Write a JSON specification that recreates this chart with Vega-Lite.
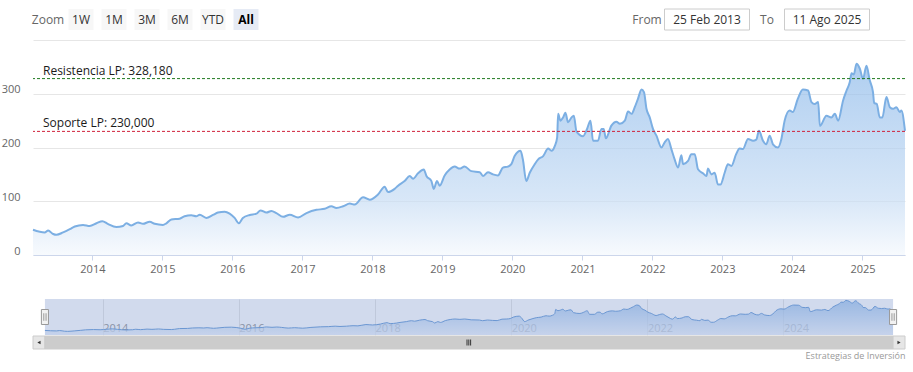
{
  "$schema": "https://vega.github.io/schema/vega-lite/v6.json",
  "background": "white",
  "padding": {"left": 1, "top": 8, "right": 0, "bottom": 0},
  "config": {
    "view": {"stroke": null},
    "font": "Open Sans",
    "axis": {"labelFont": "Open Sans"},
    "text": {"font": "Open Sans"},
    "title": {"font": "Open Sans"}
  },
  "datasets": {
    "prices": [
      {"date":"2013-02-25","value":47},{"date":"2013-04-27","value":42},{"date":"2013-05-15","value":45.6},{"date":"2013-06-10","value":39},{"date":"2013-06-27","value":37.5},{"date":"2013-08-01","value":42},{"date":"2013-09-05","value":48},{"date":"2013-10-01","value":53},{"date":"2013-11-13","value":56},{"date":"2013-12-18","value":54},
      {"date":"2014-01-22","value":59},{"date":"2014-02-22","value":63},{"date":"2014-03-22","value":58},{"date":"2014-05-06","value":52},{"date":"2014-06-10","value":54},{"date":"2014-06-27","value":59},{"date":"2014-07-23","value":55},{"date":"2014-08-27","value":60.6},{"date":"2014-09-22","value":58},{"date":"2014-10-27","value":62},{"date":"2014-11-22","value":58},
      {"date":"2015-01-04","value":56},{"date":"2015-01-22","value":59},{"date":"2015-02-17","value":66},{"date":"2015-04-01","value":67.5},{"date":"2015-04-27","value":72},{"date":"2015-06-01","value":74},{"date":"2015-06-27","value":72},{"date":"2015-07-15","value":75},{"date":"2015-08-18","value":69},{"date":"2015-09-22","value":74.5},{"date":"2015-10-18","value":79},{"date":"2015-11-22","value":80.6},{"date":"2015-12-18","value":77},
      {"date":"2016-01-13","value":69},{"date":"2016-02-04","value":59},{"date":"2016-02-25","value":69},{"date":"2016-04-01","value":74.5},{"date":"2016-05-06","value":77},{"date":"2016-05-27","value":83},{"date":"2016-06-27","value":79},{"date":"2016-07-23","value":82},{"date":"2016-08-18","value":78},{"date":"2016-09-22","value":71},{"date":"2016-10-27","value":75},{"date":"2016-12-09","value":70},
      {"date":"2017-01-22","value":78},{"date":"2017-03-15","value":84},{"date":"2017-04-27","value":86},{"date":"2017-06-01","value":90.6},{"date":"2017-06-27","value":87.6},{"date":"2017-08-01","value":90.6},{"date":"2017-09-05","value":95.6},{"date":"2017-10-01","value":93.8},{"date":"2017-11-13","value":107.5},{"date":"2017-12-18","value":103},
      {"date":"2018-01-30","value":112.5},{"date":"2018-03-06","value":127},{"date":"2018-03-23","value":117},{"date":"2018-04-27","value":123},{"date":"2018-05-15","value":129},{"date":"2018-06-18","value":137.5},{"date":"2018-07-15","value":147},{"date":"2018-08-01","value":142},{"date":"2018-08-27","value":152},{"date":"2018-09-26","value":159},{"date":"2018-10-10","value":147},{"date":"2018-11-05","value":137.5},{"date":"2018-11-17","value":123},{"date":"2018-12-04","value":137.5},{"date":"2018-12-18","value":129},
      {"date":"2019-01-13","value":148},{"date":"2019-02-08","value":159},{"date":"2019-03-06","value":164.5},{"date":"2019-04-01","value":160.7},{"date":"2019-04-27","value":164.5},{"date":"2019-06-01","value":156},{"date":"2019-07-15","value":154},{"date":"2019-08-01","value":147},{"date":"2019-08-27","value":154},{"date":"2019-09-22","value":150},{"date":"2019-10-18","value":148},{"date":"2019-11-13","value":162.6},{"date":"2019-12-09","value":164.5},{"date":"2019-12-27","value":169},
      {"date":"2020-01-13","value":184},{"date":"2020-02-13","value":194},{"date":"2020-02-25","value":178},{"date":"2020-03-14","value":137.5},{"date":"2020-04-01","value":153},{"date":"2020-04-27","value":169},{"date":"2020-05-15","value":178},{"date":"2020-06-10","value":184},{"date":"2020-07-06","value":198},{"date":"2020-07-23","value":194},{"date":"2020-08-10","value":203},{"date":"2020-08-22","value":219},{"date":"2020-08-27","value":262.6},{"date":"2020-09-08","value":250},{"date":"2020-09-22","value":256},{"date":"2020-10-04","value":264.5},{"date":"2020-10-18","value":247},{"date":"2020-11-05","value":256},{"date":"2020-11-17","value":259},{"date":"2020-12-01","value":229.5},
      {"date":"2021-01-04","value":221},{"date":"2021-01-25","value":234.5},{"date":"2021-02-12","value":250},{"date":"2021-02-25","value":212.6},{"date":"2021-03-23","value":212.6},{"date":"2021-04-10","value":234.5},{"date":"2021-04-22","value":234.5},{"date":"2021-05-03","value":217},{"date":"2021-06-01","value":240.6},{"date":"2021-06-27","value":248},{"date":"2021-07-15","value":244},{"date":"2021-08-10","value":250},{"date":"2021-08-27","value":267},{"date":"2021-09-14","value":262.6},{"date":"2021-10-01","value":275},{"date":"2021-10-18","value":291},{"date":"2021-11-05","value":308},{"date":"2021-11-18","value":303},{"date":"2021-12-01","value":272},{"date":"2021-12-18","value":256},
      {"date":"2022-01-04","value":234.5},{"date":"2022-01-22","value":222},{"date":"2022-02-17","value":200},{"date":"2022-03-06","value":209.6},{"date":"2022-03-23","value":216},{"date":"2022-04-10","value":197},{"date":"2022-04-27","value":178},{"date":"2022-05-15","value":162.6},{"date":"2022-06-01","value":185.7},{"date":"2022-06-10","value":169},{"date":"2022-07-06","value":175},{"date":"2022-07-23","value":187.6},{"date":"2022-08-10","value":187.6},{"date":"2022-08-27","value":159.4},{"date":"2022-09-22","value":152},{"date":"2022-10-10","value":147},{"date":"2022-10-18","value":160.7},{"date":"2022-11-05","value":150},{"date":"2022-11-22","value":153},{"date":"2022-12-09","value":131},{"date":"2022-12-22","value":131},
      {"date":"2023-01-13","value":153},{"date":"2023-01-30","value":169},{"date":"2023-02-17","value":165.6},{"date":"2023-03-14","value":187.6},{"date":"2023-04-01","value":198},{"date":"2023-04-18","value":197},{"date":"2023-05-15","value":216},{"date":"2023-06-10","value":212.6},{"date":"2023-06-27","value":214.5},{"date":"2023-07-11","value":231},{"date":"2023-08-01","value":212.6},{"date":"2023-08-18","value":206},{"date":"2023-09-05","value":222},{"date":"2023-09-22","value":206},{"date":"2023-10-18","value":200},{"date":"2023-11-05","value":216},{"date":"2023-11-22","value":250},{"date":"2023-12-18","value":269},
      {"date":"2024-01-04","value":266},{"date":"2024-01-30","value":291},{"date":"2024-02-25","value":308},{"date":"2024-03-23","value":306},{"date":"2024-04-10","value":284.5},{"date":"2024-04-27","value":281},{"date":"2024-05-15","value":284.5},{"date":"2024-05-24","value":240},{"date":"2024-06-27","value":259},{"date":"2024-07-23","value":256},{"date":"2024-08-10","value":262.6},{"date":"2024-08-27","value":250},{"date":"2024-09-22","value":287.6},{"date":"2024-10-10","value":306},{"date":"2024-10-27","value":322},{"date":"2024-11-05","value":338},{"date":"2024-11-17","value":336},{"date":"2024-12-01","value":356},{"date":"2024-12-18","value":347},
      {"date":"2025-01-04","value":328},{"date":"2025-01-22","value":352},{"date":"2025-02-08","value":325},{"date":"2025-02-25","value":303},{"date":"2025-03-03","value":283},{"date":"2025-03-17","value":281},{"date":"2025-04-01","value":256},{"date":"2025-04-15","value":256},{"date":"2025-05-06","value":294},{"date":"2025-05-24","value":275},{"date":"2025-06-10","value":272},{"date":"2025-06-27","value":275},{"date":"2025-07-15","value":266},{"date":"2025-07-23","value":269},{"date":"2025-08-11","value":231}
    ],
    "levels": [
      {"label":"Resistencia LP: 328,180","level":328.18,"kind":"res","start":"2013-02-25"},
      {"label":"Soporte LP: 230,000","level":230,"kind":"sup","start":"2013-02-25"}
    ],
    "range": [{"start":"2013-02-25","end":"2025-08-11"}],
    "scroll": [
      {"part":"left","start":"2012-12-23","end":"2013-02-25","center":"2013-01-24"},
      {"part":"thumb","start":"2013-02-25","end":"2025-08-11","center":"2019-05-19"},
      {"part":"right","start":"2025-08-11","end":"2025-10-14","center":"2025-09-12"}
    ],
    "zoomButtons": [
      {"item":"Zoom","kind":"label"},{"item":"1W","kind":"button"},{"item":"1M","kind":"button"},{"item":"3M","kind":"button"},{"item":"6M","kind":"button"},{"item":"YTD","kind":"button"},{"item":"All","kind":"selected"}
    ],
    "dateInputs": [
      {"item":"From","kind":"label"},{"item":"25 Feb 2013","kind":"box"},{"item":"To","kind":"label"},{"item":"11 Ago 2025","kind":"box"}
    ]
  },
  "vconcat": [
    {
      "spacing": 9,
      "resolve": {"scale": {"x": "independent", "y": "independent"}},
      "vconcat": [
        {
          "spacing": 356,
          "resolve": {"scale": {"x": "independent", "y": "independent"}},
          "hconcat": [
            {
              "width": 228, "height": 21,
              "data": {"name": "zoomButtons"},
              "encoding": {"x": {"field": "item", "type": "nominal", "scale": {"type": "point", "padding": 0.4545, "domain": ["Zoom","1W","1M","3M","6M","YTD","All"]}, "axis": null}},
              "layer": [
                {"transform": [{"filter": "datum.kind != 'label'"}], "mark": {"type": "bar", "width": 25}, "encoding": {"color": {"condition": {"test": "datum.kind == 'selected'", "value": "#e6ebf5"}, "value": "#f7f7f7"}}},
                {"transform": [{"filter": "datum.kind != 'selected'"}], "mark": {"type": "text", "fontSize": 12}, "encoding": {"text": {"field": "item"}, "color": {"condition": {"test": "datum.kind == 'label'", "value": "#666666"}, "value": "#333333"}}},
                {"transform": [{"filter": "datum.kind == 'selected'"}], "mark": {"type": "text", "fontSize": 12, "fontWeight": "bold", "color": "#000000"}, "encoding": {"text": {"field": "item"}}}
              ]
            },
            {
              "width": 240, "height": 21,
              "data": {"name": "dateInputs"},
              "encoding": {"x": {"field": "item", "type": "nominal", "scale": {"type": "point", "padding": 0.5, "domain": ["From","25 Feb 2013","To","11 Ago 2025"]}, "axis": null}},
              "layer": [
                {"transform": [{"filter": "datum.kind == 'box'"}], "mark": {"type": "bar", "width": 85, "fill": "#ffffff", "stroke": "#cccccc", "strokeWidth": 1}},
                {"mark": {"type": "text", "fontSize": 12}, "encoding": {"text": {"field": "item"}, "color": {"condition": {"test": "datum.kind == 'label'", "value": "#666666"}, "value": "#333333"}}}
              ]
            }
          ]
        },
        {
          "width": 872, "height": 215,
          "layer": [
            {
              "data": {"name": "prices"},
              "mark": {"type": "area", "interpolate": "monotone",
                "line": {"color": "#7cafe3", "strokeWidth": 2},
                "color": {"gradient": "linear", "x1": 0, "y1": 0, "x2": 0, "y2": 1,
                  "stops": [{"offset": 0, "color": "#8ebaea"}, {"offset": 0.7, "color": "#c6dcf4"}, {"offset": 1, "color": "#f4f8fd"}]}},
              "encoding": {
                "x": {"field": "date", "type": "temporal", "scale": {"type": "utc", "nice": false},
                  "axis": {"format": "%Y", "tickCount": {"interval": "year", "step": 1}, "grid": false, "domainColor": "#ccd6eb", "tickColor": "#ccd6eb", "tickSize": 5, "labelColor": "#666666", "labelFontSize": 11, "labelPadding": 3, "title": null, "labelFlush": false, "labelOverlap": false}},
                "y": {"field": "value", "type": "quantitative", "scale": {"domain": [0, 400], "nice": false},
                  "axis": {"values": [0, 100, 200, 300, 400], "labelExpr": "datum.value == 400 ? '' : datum.label", "grid": true, "gridColor": "#e6e6e6", "domain": false, "ticks": false, "labelPadding": 13, "labelColor": "#666666", "labelFontSize": 11, "labelBaseline": "alphabetic", "labelOffset": -1, "title": null}}
              }
            },
            {
              "data": {"name": "levels"},
              "transform": [{"filter": "datum.kind == 'res'"}],
              "mark": {"type": "rule", "strokeDash": [3, 2], "strokeWidth": 1, "color": "#1f7a1f"},
              "encoding": {"y": {"field": "level", "type": "quantitative"}}
            },
            {
              "data": {"name": "levels"},
              "transform": [{"filter": "datum.kind == 'sup'"}],
              "mark": {"type": "rule", "strokeDash": [3, 2], "strokeWidth": 1, "color": "#d0203a"},
              "encoding": {"y": {"field": "level", "type": "quantitative"}}
            },
            {
              "data": {"name": "levels"},
              "mark": {"type": "text", "align": "left", "baseline": "alphabetic", "dx": 10, "dy": -4, "fontSize": 12, "color": "#1a1a1a"},
              "encoding": {
                "x": {"field": "start", "type": "temporal"},
                "y": {"field": "level", "type": "quantitative"},
                "text": {"field": "label"}
              }
            }
          ]
        }
      ]
    },
    {
      "spacing": 0,
      "resolve": {"scale": {"x": "independent", "y": "independent"}},
      "vconcat": [
        {
          "width": 872, "height": 36,
          "layer": [
            {
              "data": {"name": "prices"},
              "mark": {"type": "area", "interpolate": "monotone",
                "line": {"color": "#6d9fd9", "strokeWidth": 1},
                "color": {"gradient": "linear", "x1": 0, "y1": 0, "x2": 0, "y2": 1,
                  "stops": [{"offset": 0, "color": "#8ebaea"}, {"offset": 1, "color": "#e8f0fb"}]}},
              "encoding": {
                "x": {"field": "date", "type": "temporal",
                  "scale": {"type": "utc", "nice": false, "domain": [{"year": 2012, "month": 12, "date": 23, "utc": true}, {"year": 2025, "month": 10, "date": 14, "utc": true}]},
                  "axis": {"values": [{"year": 2014, "utc": true}, {"year": 2016, "utc": true}, {"year": 2018, "utc": true}, {"year": 2020, "utc": true}, {"year": 2022, "utc": true}, {"year": 2024, "utc": true}],
                    "format": "%Y", "grid": true, "gridColor": "#e6e6e6", "domain": false, "ticks": false, "labelAlign": "left", "labelDx": 3, "labelBaseline": "alphabetic", "labelPadding": -4, "labelColor": "#999999", "labelFontSize": 11, "title": null, "labelFlush": false, "labelOverlap": false}},
                "y": {"field": "value", "type": "quantitative", "scale": {"domain": [0, 370], "nice": false}, "axis": null}
              }
            },
            {
              "data": {"name": "range"},
              "mark": {"type": "rect", "color": "#6685c2", "opacity": 0.3},
              "encoding": {"x": {"field": "start", "type": "temporal"}, "x2": {"field": "end"}}
            },
            {
              "data": {"name": "range"},
              "mark": {"type": "point", "shape": "M-0.47,-1H0.47V1H-0.47Z", "size": 225, "filled": true, "fill": "#f2f2f2", "stroke": "#999999", "strokeWidth": 1, "opacity": 1},
              "encoding": {"x": {"field": "start", "type": "temporal"}}
            },
            {
              "data": {"name": "range"},
              "mark": {"type": "point", "shape": "M-0.47,-1H0.47V1H-0.47Z", "size": 225, "filled": true, "fill": "#f2f2f2", "stroke": "#999999", "strokeWidth": 1, "opacity": 1},
              "encoding": {"x": {"field": "end", "type": "temporal"}}
            },
            {
              "data": {"name": "range"},
              "mark": {"type": "point", "shape": "M-0.15,-0.5V0.5M0.15,-0.5V0.5", "size": 225, "filled": false, "stroke": "#999999", "strokeWidth": 1, "opacity": 1},
              "encoding": {"x": {"field": "start", "type": "temporal"}}
            },
            {
              "data": {"name": "range"},
              "mark": {"type": "point", "shape": "M-0.15,-0.5V0.5M0.15,-0.5V0.5", "size": 225, "filled": false, "stroke": "#999999", "strokeWidth": 1, "opacity": 1},
              "encoding": {"x": {"field": "end", "type": "temporal"}}
            }
          ]
        },
        {
          "width": 872, "height": 13,
          "title": {"text": "Estrategias de Inversión", "orient": "bottom", "anchor": "end", "fontSize": 9, "color": "#999999", "fontWeight": "normal", "offset": 2},
          "data": {"name": "scroll"},
          "layer": [
            {
              "mark": {"type": "rect", "stroke": "#cccccc", "strokeWidth": 1},
              "encoding": {
                "x": {"field": "start", "type": "temporal",
                  "scale": {"type": "utc", "nice": false, "domain": [{"year": 2012, "month": 12, "date": 23, "utc": true}, {"year": 2025, "month": 10, "date": 14, "utc": true}]},
                  "axis": null},
                "x2": {"field": "end"},
                "color": {"condition": {"test": "datum.part == 'thumb'", "value": "#cccccc"}, "value": "#e6e6e6"}
              }
            },
            {
              "transform": [{"filter": "datum.part == 'left'"}],
              "mark": {"type": "point", "shape": "triangle-left", "size": 14, "filled": true, "color": "#333333", "opacity": 1},
              "encoding": {"x": {"field": "center", "type": "temporal"}}
            },
            {
              "transform": [{"filter": "datum.part == 'right'"}],
              "mark": {"type": "point", "shape": "triangle-right", "size": 14, "filled": true, "color": "#333333", "opacity": 1},
              "encoding": {"x": {"field": "center", "type": "temporal"}}
            },
            {
              "transform": [{"filter": "datum.part == 'thumb'"}],
              "mark": {"type": "point", "shape": "M-0.6,-1V1M0,-1V1M0.6,-1V1", "size": 36, "filled": false, "stroke": "#333333", "strokeWidth": 1, "opacity": 1},
              "encoding": {"x": {"field": "center", "type": "temporal"}}
            }
          ]
        }
      ]
    }
  ],
  "spacing": 24,
  "resolve": {"scale": {"x": "independent", "y": "independent"}}
}
